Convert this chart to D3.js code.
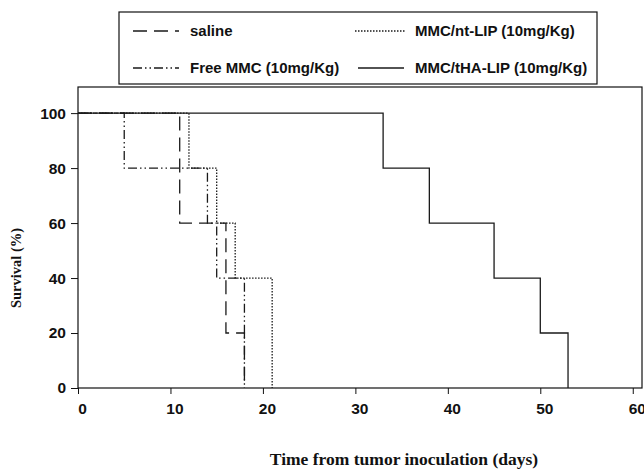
<!DOCTYPE html>
<html>
<head>
<meta charset="utf-8">
<script src="https://cdn.jsdelivr.net/npm/d3@7"></script>
<style>
  body { margin: 0; background: #fff; }
  svg { display: block; }
  .tick text { font-family: "Liberation Sans", Arial, sans-serif; font-weight: bold; font-size: 15.5px; fill: #111; }
  .legend-text { font-family: "Liberation Sans", Arial, sans-serif; font-weight: bold; font-size: 15px; fill: #111; }
  .axis-label { font-family: "Liberation Serif", "Times New Roman", serif; font-weight: bold; fill: #111; }
</style>
</head>
<body>
<svg width="644" height="470"></svg>
<script>
// Series names (legend order)
const seriesNames = ["saline", "Free MMC (10mg/Kg)", "MMC/nt-LIP (10mg/Kg)", "MMC/tHA-LIP (10mg/Kg)"];

// Kaplan-Meier steps: day of each step and survival (%) after it
const salineDays = [0, 11, 16, 18];
const salineSurv = [100, 60, 20, 0];
const freeDays = [0, 5, 14, 15, 18];
const freeSurv = [100, 80, 60, 40, 0];
const ntDays = [0, 12, 15, 17, 21];
const ntSurv = [100, 80, 60, 40, 0];
const thaDays = [0, 33, 38, 45, 50, 53];
const thaSurv = [100, 80, 60, 40, 20, 0];

// Axis ticks
const xTicks = [0, 10, 20, 30, 40, 50, 60];
const yTicks = [0, 20, 40, 60, 80, 100];

const svg = d3.select("svg");

// Plot frame
const plot = { left: 78, right: 642, top: 87, bottom: 388 };

const xScale = d3.scaleLinear()
    .domain([0, 61])
    .range([plot.left, plot.right]);

const yScale = d3.scaleLinear()
    .domain([0, 109.5])
    .range([plot.bottom, plot.top]);

const series = [
    { name: seriesNames[0], days: salineDays, surv: salineSurv, dash: "14,7" },
    { name: seriesNames[1], days: freeDays, surv: freeSurv, dash: "9,3,1.5,3,1.5,3" },
    { name: seriesNames[2], days: ntDays, surv: ntSurv, dash: "1.5,1.5" },
    { name: seriesNames[3], days: thaDays, surv: thaSurv, dash: null }
];

const line = d3.line()
    .x(d => xScale(d[0]))
    .y(d => yScale(d[1]))
    .curve(d3.curveStepAfter);

// Frame
svg.append("rect")
    .attr("x", plot.left)
    .attr("y", plot.top)
    .attr("width", plot.right - plot.left)
    .attr("height", plot.bottom - plot.top)
    .attr("fill", "none")
    .attr("stroke", "#111")
    .attr("stroke-width", 1.2);

// Survival curves
svg.selectAll(".curve")
    .data(series)
    .enter()
    .append("path")
    .attr("class", "curve")
    .attr("fill", "none")
    .attr("stroke", "#1a1a1a")
    .attr("stroke-width", 1.3)
    .attr("stroke-dasharray", d => d.dash)
    .attr("d", d => line(d.days.map((x, i) => [x, d.surv[i]])));

// x-axis
const xAxis = svg.append("g")
    .attr("transform", `translate(0, ${plot.bottom})`)
    .call(d3.axisBottom(xScale).tickValues(xTicks).tickSize(6).tickPadding(9));
xAxis.select(".domain").remove();
xAxis.selectAll(".tick line").attr("stroke", "#111");
xAxis.selectAll(".tick text").attr("dx", 4);

// y-axis
const yAxis = svg.append("g")
    .attr("transform", `translate(${plot.left}, 0)`)
    .call(d3.axisLeft(yScale).tickValues(yTicks).tickSize(7).tickPadding(5));
yAxis.select(".domain").remove();
yAxis.selectAll(".tick line").attr("stroke", "#111");

// Axis labels
svg.append("text")
    .attr("class", "axis-label")
    .attr("x", 404)
    .attr("y", 465)
    .attr("text-anchor", "middle")
    .style("font-size", "17.5px")
    .text("Time from tumor inoculation (days)");

svg.append("text")
    .attr("class", "axis-label")
    .attr("transform", "rotate(-90)")
    .attr("x", -268)
    .attr("y", 21)
    .attr("text-anchor", "middle")
    .style("font-size", "14.5px")
    .text("Survival (%)");

// Legend
const legend = { x: 119, y: 12, w: 478, h: 72 };
svg.append("rect")
    .attr("x", legend.x)
    .attr("y", legend.y)
    .attr("width", legend.w)
    .attr("height", legend.h)
    .attr("fill", "#fff")
    .attr("stroke", "#111")
    .attr("stroke-width", 1.2);

const legendPos = [
    { x1: 133, x2: 179, tx: 190, y: 31 },
    { x1: 133, x2: 179, tx: 190, y: 68 },
    { x1: 355, x2: 406, tx: 415, y: 31 },
    { x1: 358, x2: 404, tx: 415, y: 68 }
];

series.forEach((s, i) => {
    const p = legendPos[i];
    svg.append("line")
        .attr("x1", p.x1)
        .attr("x2", p.x2)
        .attr("y1", p.y)
        .attr("y2", p.y)
        .attr("stroke", "#1a1a1a")
        .attr("stroke-width", 1.3)
        .attr("stroke-dasharray", s.dash);
    svg.append("text")
        .attr("class", "legend-text")
        .attr("x", p.tx)
        .attr("y", p.y + 5)
        .text(s.name);
});
</script>
</body>
</html>
